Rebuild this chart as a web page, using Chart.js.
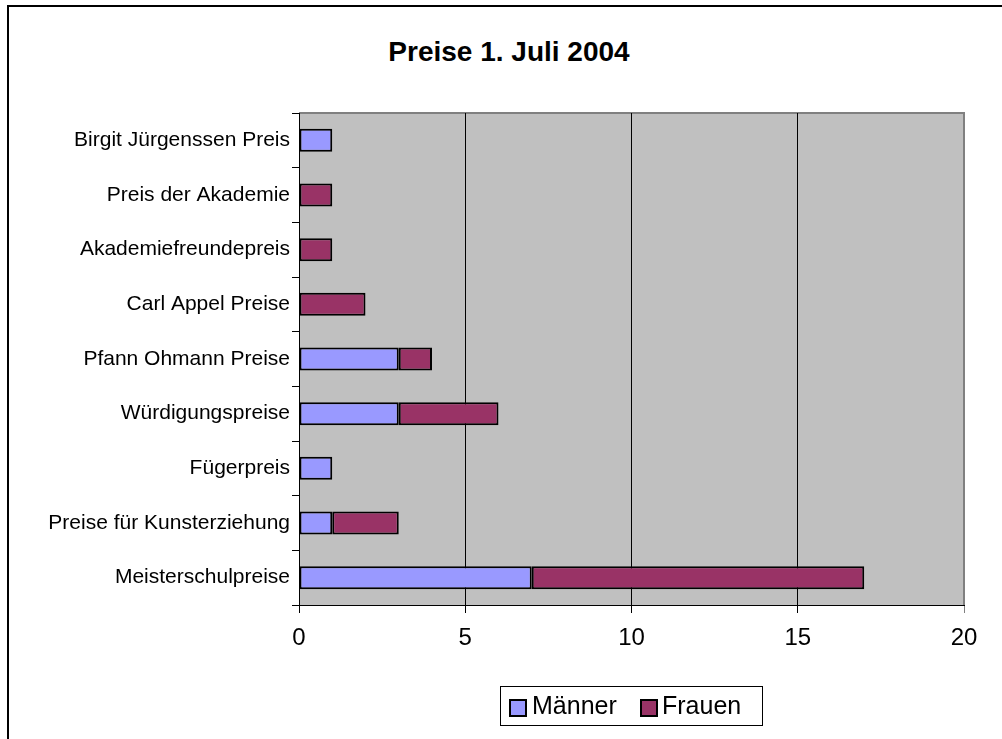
<!DOCTYPE html>
<html>
<head>
<meta charset="utf-8">
<script src="https://cdn.jsdelivr.net/npm/chart.js@4.4.1/dist/chart.umd.min.js"></script>
<style>
  html, body { margin: 0; padding: 0; background: #fff; }
  body { width: 1002px; height: 739px; position: relative; overflow: hidden; font-family: "Liberation Sans", Arial, sans-serif; }
  #frame { position: absolute; left: 7px; top: 5px; width: 1100px; height: 800px; border-top: 2px solid #000; border-left: 2px solid #000; }
  #chartTitle { position: absolute; left: 0; width: 1018px; top: 38px; text-align: center; font-weight: bold; font-size: 28px; line-height: 28px; color: #000; }
  canvas { position: absolute; left: 0; top: 0; }
  .legend { position: absolute; left: 500px; top: 686px; width: 263px; height: 40px; border: 1px solid #000; box-sizing: border-box; font-size: 25px; color: #000; }
  .legend span.sw { position: absolute; top: 12px; width: 14px; height: 14px; border: 2px solid #000; box-sizing: content-box; }
  .legend span.lbl { position: absolute; top: 6px; line-height: 25px; }
</style>
</head>
<body>
<div id="frame"></div>
<div id="chartTitle">Preise 1. Juli 2004</div>
<canvas id="barChart" width="1002" height="739"></canvas>
<div class="legend" id="legend"></div>
<script>
// categories top to bottom
const categories = [
    'Birgit Jürgenssen Preis',
    'Preis der Akademie',
    'Akademiefreundepreis',
    'Carl Appel Preise',
    'Pfann Ohmann Preise',
    'Würdigungspreise',
    'Fügerpreis',
    'Preise für Kunsterziehung',
    'Meisterschulpreise'
];
const maenner = [1, 0, 0, 0, 3, 3, 1, 1, 7];
const frauen  = [0, 1, 1, 2, 1, 3, 0, 2, 10];
const xTicks = [0, 5, 10, 15, 20];
const seriesNames = ['Männer', 'Frauen'];
const seriesColors = ['#9999FF', '#993366'];

document.addEventListener('DOMContentLoaded', function() {
    // gray plot background plus the gray top/right frame
    const plotBackground = {
        id: 'plotBackground',
        beforeDraw(chart) {
            const a = chart.chartArea;
            const c = chart.ctx;
            c.save();
            c.fillStyle = '#C0C0C0';
            c.fillRect(a.left, a.top, a.right - a.left, a.bottom - a.top);
            c.strokeStyle = '#808080';
            c.lineWidth = 2;
            c.beginPath();
            c.moveTo(a.left, a.top);
            c.lineTo(a.right, a.top);
            c.lineTo(a.right, a.bottom);
            c.stroke();
            c.restore();
        }
    };

    const toBar = v => (v === 0 ? null : v);

    const ctx = document.getElementById('barChart').getContext('2d');
    new Chart(ctx, {
        type: 'bar',
        data: {
            labels: categories,
            datasets: [
                { label: seriesNames[0], data: maenner.map(toBar), backgroundColor: seriesColors[0] },
                { label: seriesNames[1], data: frauen.map(toBar), backgroundColor: seriesColors[1] }
            ].map(ds => Object.assign(ds, {
                borderColor: '#000',
                borderWidth: 2,
                borderSkipped: false,
                barPercentage: 0.42,
                categoryPercentage: 1
            }))
        },
        plugins: [plotBackground],
        options: {
            indexAxis: 'y',
            responsive: false,
            animation: false,
            layout: { padding: { left: 0, right: 38, top: 113, bottom: 74 } },
            plugins: {
                legend: { display: false },
                title: { display: false },
                tooltip: { enabled: false }
            },
            scales: {
                x: {
                    stacked: true,
                    min: 0,
                    max: 20,
                    afterFit(scale) { scale.height = 60; },
                    afterBuildTicks(scale) { scale.ticks = xTicks.map(v => ({ value: v })); },
                    border: { display: true, color: '#000', width: 1 },
                    grid: {
                        color: c => (c.tick && c.tick.value === 20 ? '#808080' : '#000'),
                        tickColor: c => (c.tick && c.tick.value === 20 ? '#808080' : '#000'),
                        lineWidth: 1,
                        tickLength: 8,
                        drawTicks: true
                    },
                    ticks: {
                        color: '#000',
                        padding: 11,
                        maxRotation: 0,
                        font: { family: 'Liberation Sans', size: 24 }
                    }
                },
                y: {
                    stacked: true,
                    afterFit(scale) { scale.width = 299; },
                    border: { display: true, color: '#000', width: 1 },
                    grid: {
                        offset: true,
                        drawOnChartArea: false,
                        drawTicks: true,
                        tickLength: 7,
                        tickColor: '#000'
                    },
                    ticks: {
                        color: '#000',
                        padding: 2,
                        font: { family: 'Liberation Sans', size: 21 }
                    }
                }
            }
        }
    });

    // legend drawn as html box
    const legend = document.getElementById('legend');
    const swX = [8, 139];
    const lblX = [31, 161];
    seriesNames.forEach((name, i) => {
        const sw = document.createElement('span');
        sw.className = 'sw';
        sw.style.left = swX[i] + 'px';
        sw.style.background = seriesColors[i];
        legend.appendChild(sw);
        const lbl = document.createElement('span');
        lbl.className = 'lbl';
        lbl.style.left = lblX[i] + 'px';
        lbl.textContent = name;
        legend.appendChild(lbl);
    });
});
</script>
</body>
</html>
